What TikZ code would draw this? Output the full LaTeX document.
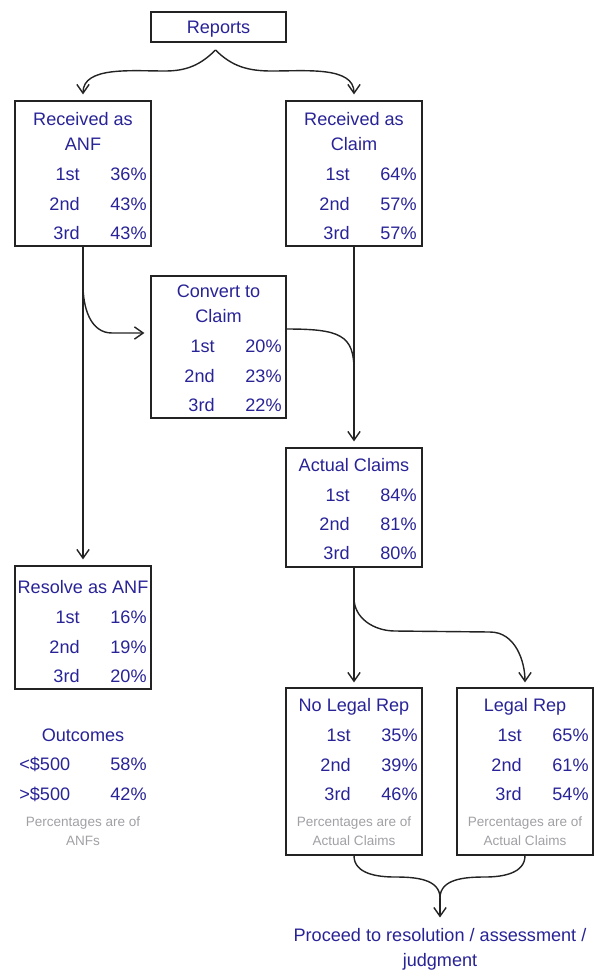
\documentclass[tikz,border=0pt]{standalone}
\usepackage{fontspec}
\setmainfont{Liberation Sans}
\usepackage{tikz}
\usetikzlibrary{arrows.meta,calc,positioning}
\definecolor{navytext}{RGB}{40,35,150}
\definecolor{notegrey}{RGB}{160,160,165}
\definecolor{lineblack}{RGB}{35,35,35}
\tikzset
{
    statbox/.style  = {draw=lineblack, line width=0.7pt, minimum width=2.72cm, inner sep=0pt},
    boxtitle/.style = {text=navytext, font=\fontsize{10.3}{12}\selectfont, inner sep=0pt, text height=7.4pt, text depth=0pt},
    twoline/.style  = {text=navytext, font=\fontsize{10.3}{14.5}\selectfont, inner sep=0pt, align=center},
    rowtext/.style  = {boxtitle, anchor=east},
    notetext/.style = {text=notegrey, font=\fontsize{7.7}{10.6}\selectfont, inner sep=0pt, align=center},
    flowline/.style = {draw=lineblack, line width=0.8pt}
}

\begin{document}
\begin{tikzpicture}[x=0.02cm, y=-0.02cm, >={Straight Barb[length=5pt,width=7pt]}]
    \useasboundingbox (0,0) rectangle (601,971);

    % boxes
    \node [statbox, boxtitle, minimum width=2.7cm, minimum height=0.6cm] (reports) at (218.5,27) {Reports};
    \node [statbox, minimum height=2.9cm] (anf) at (83,173.5) {};
    \node [statbox, minimum height=2.9cm] (claim) at (354,173.5) {};
    \node [statbox, minimum width=2.7cm, minimum height=2.84cm] (convert) at (218.5,347) {};
    \node [statbox, minimum height=2.38cm] (actual) at (354,507.5) {};
    \node [statbox, minimum height=2.46cm] (resolve) at (83,627.5) {};
    \node [statbox, minimum height=3.34cm] (nolegal) at (354,771.5) {};
    \node [statbox, minimum height=3.34cm] (legal) at (525,771.5) {};

    % titles
    \node [twoline] (anf-t) at (83,131.5) {Received as\\ANF};
    \node [twoline] (claim-t) at (354,131.5) {Received as\\Claim};
    \node [twoline] (convert-t) at (218.5,304) {Convert to\\Claim};
    \node [boxtitle] (actual-t) at (354,465) {Actual Claims};
    \node [boxtitle] (resolve-t) at (83,587) {Resolve as ANF};
    \node [boxtitle] (nolegal-t) at (354,705) {No Legal Rep};
    \node [boxtitle] (legal-t) at (525,705) {Legal Rep};

    % rows
    \foreach \lb/\pa/\pb [count=\i] in {1st/36/64, 2nd/43/57, 3rd/43/57}
    {
        \node [rowtext] (anf-l\i) at (80,144.5+29.5*\i) {\lb};
        \node [rowtext] (anf-p\i) at (147,144.5+29.5*\i) {\pa\%};
        \node [rowtext] (claim-l\i) at (350,144.5+29.5*\i) {\lb};
        \node [rowtext] (claim-p\i) at (417,144.5+29.5*\i) {\pb\%};
    }
    \foreach \lb/\pc [count=\i] in {1st/20, 2nd/23, 3rd/22}
    {
        \node [rowtext] (convert-l\i) at (215,316.5+29.5*\i) {\lb};
        \node [rowtext] (convert-p\i) at (282,316.5+29.5*\i) {\pc\%};
    }
    \foreach \lb/\pc [count=\i] in {1st/84, 2nd/81, 3rd/80}
    {
        \node [rowtext] (actual-l\i) at (350,466+29*\i) {\lb};
        \node [rowtext] (actual-p\i) at (417,466+29*\i) {\pc\%};
    }
    \foreach \lb/\pc [count=\i] in {1st/16, 2nd/19, 3rd/20}
    {
        \node [rowtext] (resolve-l\i) at (80,587.5+29.5*\i) {\lb};
        \node [rowtext] (resolve-p\i) at (147,587.5+29.5*\i) {\pc\%};
    }
    \foreach \lb/\pa/\pb [count=\i] in {1st/35/65, 2nd/39/61, 3rd/46/54}
    {
        \node [rowtext] (nolegal-l\i) at (351,705.5+29.5*\i) {\lb};
        \node [rowtext] (nolegal-p\i) at (418,705.5+29.5*\i) {\pa\%};
        \node [rowtext] (legal-l\i) at (522,705.5+29.5*\i) {\lb};
        \node [rowtext] (legal-p\i) at (589,705.5+29.5*\i) {\pb\%};
    }
    \node [notetext] (nolegal-n) at (354,831) {Percentages are of\\Actual Claims};
    \node [notetext] (legal-n) at (525,831) {Percentages are of\\Actual Claims};

    % outcomes
    \node [boxtitle] (outcomes) at (83,735) {Outcomes};
    \node [boxtitle, anchor=west] (low) at (19,764) {<\$500};
    \node [rowtext] (low-p) at (147,764) {58\%};
    \node [boxtitle, anchor=west] (high) at (19,794) {>\$500};
    \node [rowtext] (high-p) at (147,794) {42\%};
    \node [notetext] (outcomes-n) at (83,831) {Percentages are of\\ANFs};

    \node [twoline] (proceed) at (440,949.5) {Proceed to resolution / assessment /\\judgment};

    % connectors
    \coordinate (reports-split) at (215.5,50);
    \coordinate (anf-split) at (83,285);
    \coordinate (claim-merge) at (354,370);
    \coordinate (actual-split) at (354,598);
    \coordinate (merge) at (440,898);

    \draw [flowline, ->, shorten >=0.12cm] (reports-split) to [out=-135, in=0] (165,71) to [out=180, in=90] (anf.north);
    \draw [flowline, ->, shorten >=0.12cm] (reports-split) to [out=-45, in=180] (272,71) to [out=0, in=90] (claim.north);
    \draw [flowline, ->, shorten >=0.12cm] (anf.south) -- (resolve.north);
    \draw [flowline, ->, shorten >=0.12cm] (anf-split) to [out=-90, in=180] (112,333) -- ($(convert.west)+(0,-14)$);
    \draw [flowline] ($(convert.east)+(0,-18)$) .. controls (340,329) and (354,335) .. (claim-merge);
    \draw [flowline, ->, shorten >=0.12cm] (claim.south) -- (actual.north);
    \draw [flowline, ->, shorten >=0.1cm] (actual.south) -- (nolegal.north);
    \draw [flowline, ->, shorten >=0.1cm] (actual-split) to [out=-90, in=180] (395,631) -- (490,632) to [out=0, in=90] (legal.north);
    \draw [flowline] (nolegal.south) to [out=-90, in=180] (395,877) to [out=0, in=90] (merge);
    \draw [flowline] (legal.south) to [out=-90, in=0] (485,877) to [out=180, in=90] (merge);
    \draw [flowline, ->, shorten >=0.21cm] (merge) -- (proceed.north);
\end{tikzpicture}
\end{document}
